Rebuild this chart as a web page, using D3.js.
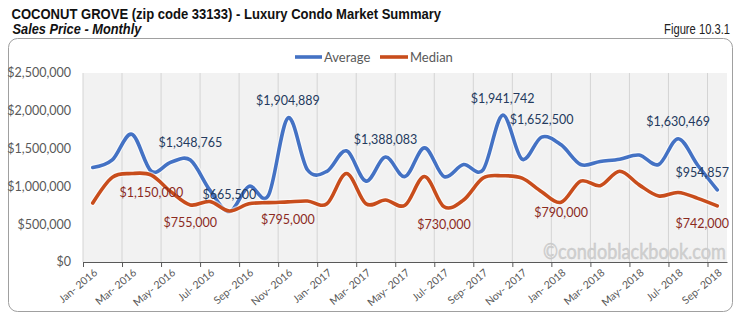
<!DOCTYPE html>
<html><head><meta charset="utf-8">
<script src="https://cdn.jsdelivr.net/npm/d3@7"></script>
<style>
html,body{margin:0;padding:0;background:#fff;}
svg{display:block;}
</style></head>
<body><svg id="c" width="741" height="322"></svg>
<script>
const categories = ["Jan- 2016","Feb- 2016","Mar- 2016","Apr- 2016","May- 2016","Jun- 2016","Jul- 2016","Aug- 2016","Sep- 2016","Oct- 2016","Nov- 2016","Dec- 2016",
"Jan- 2017","Feb- 2017","Mar- 2017","Apr- 2017","May- 2017","Jun- 2017","Jul- 2017","Aug- 2017","Sep- 2017","Oct- 2017","Nov- 2017","Dec- 2017",
"Jan- 2018","Feb- 2018","Mar- 2018","Apr- 2018","May- 2018","Jun- 2018","Jul- 2018","Aug- 2018","Sep- 2018"];
const average = [1250000,1350000,1690000,1200000,1320000,1348765,950000,665500,1000000,880000,1904889,1220000,1200000,1470000,1070000,1388083,1130000,1510000,1130000,1290000,1220000,1941742,1360000,1652500,1550000,1290000,1330000,1360000,1415000,1290000,1630469,1280000,954857];
const median = [780000,1120000,1170000,1150000,930000,755000,800000,675000,770000,785000,795000,807000,770000,1170000,770000,820000,750000,1130000,730000,820000,1110000,1140000,1110000,930000,790000,1070000,1010000,1200000,1020000,873000,920000,842000,742000];
const yTicks = [0,500000,1000000,1500000,2000000,2500000];
const averageLabelIdx = [5,7,10,15,21,23,30,32];
const medianLabelIdx = [3,5,10,18,24,32];
const seriesNames = ["Average","Median"];

const svg = d3.select("#c");
const BLUE = "#4472C4", RED = "#C84D1C";
const fontLbl = "Lato, 'Open Sans', sans-serif";
const fontTitle = "'Liberation Sans', Arial, sans-serif";

// helper: horizontally squeeze a text to a target width (narrow-font look)
function squeeze(sel, left, base, target, anchorEnd){
  const w = sel.node().getComputedTextLength();
  const s = target / w;
  sel.attr("x",0).attr("y",0)
     .attr("text-anchor", anchorEnd ? "end" : "start")
     .attr("transform",`translate(${left},${base}) scale(${s},1)`);
}

// Titles
squeeze(svg.append("text").attr("font-family",fontTitle).attr("font-weight","bold")
  .attr("font-size",14.5).attr("fill","#111")
  .text("COCONUT GROVE (zip code 33133) - Luxury Condo Market Summary"), 11.5, 19, 430, false);
squeeze(svg.append("text").attr("font-family",fontTitle).attr("font-weight","bold").attr("font-style","italic")
  .attr("font-size",14.5).attr("fill","#111").text("Sales Price - Monthly"), 12.5, 34, 129, false);
squeeze(svg.append("text").attr("font-family",fontTitle)
  .attr("font-size",14).attr("fill","#222").text("Figure 10.3.1"), 730, 34, 66, true);

// Frame
svg.append("rect").attr("x",8.5).attr("y",38.5).attr("width",724).attr("height",273).attr("rx",9)
  .attr("fill","#fff").attr("stroke","#a0a0a0").attr("stroke-width",1);

const n = categories.length;
const x = d3.scaleLinear().domain([0,n]).range([83,727]);
const y = d3.scaleLinear().domain([0,2500000]).range([262,73]);
const cx = i => x(i+0.5);

// plot bg
svg.append("rect").attr("x",x(0)).attr("y",y(2500000)).attr("width",x(n)-x(0)).attr("height",y(0)-y(2500000)).attr("fill","#f2f2f2");

const tickIdx = d3.range(0,n,2);
svg.append("g").selectAll("line").data(tickIdx).join("line")
  .attr("x1",d=>x(d)).attr("x2",d=>x(d)).attr("y1",y(2500000)).attr("y2",y(0))
  .attr("stroke","#d4d4d4").attr("stroke-width",1);

// y labels
const fmt = d3.format(",");
svg.append("g").selectAll("text").data(yTicks).join("text")
  .attr("x",71).attr("y",d=>y(d)).attr("dy","0.35em").attr("text-anchor","end")
  .attr("font-family",fontLbl).attr("font-size",12.5).attr("fill","#595959")
  .text(d=>"$"+fmt(d));

// watermark
squeeze(svg.append("text").attr("font-family",fontLbl)
  .attr("font-size",22).attr("fill","#d0d0d0").attr("stroke","#c4c4c4").attr("stroke-width",0.4)
  .text("\u00A9condoblackbook.com"), 543, 259, 183, false);

// x axis
const xAxis = d3.axisBottom(x).tickValues(tickIdx).tickFormat("").tickSize(5).tickSizeOuter(0);
const gx = svg.append("g").attr("transform",`translate(0,${y(0)})`).call(xAxis);
gx.select(".domain").attr("stroke","#595959");
gx.selectAll(".tick line").attr("stroke","#595959");

svg.append("g").selectAll("text").data(tickIdx).join("text")
  .attr("transform",d=>`translate(${cx(d)+3},${y(0)+9}) rotate(-40)`)
  .attr("text-anchor","end").attr("dy","0.35em")
  .attr("font-family",fontLbl).attr("font-size",10.5).attr("fill","#595959")
  .text(d=>categories[d]);

// lines
const line = d3.line().x((d,i)=>cx(i)).y(d=>y(d)).curve(d3.curveCardinal.tension(0));
[[average,BLUE],[median,RED]].forEach(([s,c])=>{
  svg.append("path").datum(s).attr("d",line).attr("fill","none").attr("stroke","#fff")
    .attr("stroke-opacity",0.6).attr("stroke-width",6).attr("stroke-linejoin","round").attr("stroke-linecap","round");
  svg.append("path").datum(s).attr("d",line).attr("fill","none").attr("stroke",c)
    .attr("stroke-width",3.6).attr("stroke-linejoin","round").attr("stroke-linecap","round");
});

// data labels
function addLabels(idx, s, color, off, overrides){
  svg.append("g").selectAll("text").data(idx).join("text")
    .attr("font-family",fontLbl).attr("font-size",12.5).attr("fill",color)
    .attr("text-anchor","middle").attr("dy","0.35em")
    .attr("x",d=>cx(d)).attr("y",d=>y(s[d])+((overrides[d]!==undefined)?overrides[d]:off))
    .text(d=>"$"+fmt(s[d]))
    .each(function(){
      const w=this.getComputedTextLength();
      const xx=+this.getAttribute("x");
      if(xx+w/2>729) this.setAttribute("x",729-w/2);
    });
}
addLabels(averageLabelIdx, average, "#243A5E", -17, {});
addLabels(medianLabelIdx, median, "#8B2A1E", 18, {24:10});

// legend
const lg = svg.append("g").attr("font-family",fontLbl).attr("font-size",13).attr("fill","#595959");
lg.append("line").attr("x1",295).attr("x2",322).attr("y1",57).attr("y2",57).attr("stroke",BLUE).attr("stroke-width",3.6);
lg.append("text").attr("x",324).attr("y",57).attr("dy","0.35em").text(seriesNames[0]);
lg.append("line").attr("x1",380).attr("x2",408).attr("y1",57).attr("y2",57).attr("stroke",RED).attr("stroke-width",3.6);
lg.append("text").attr("x",410).attr("y",57).attr("dy","0.35em").text(seriesNames[1]);
</script></body></html>
